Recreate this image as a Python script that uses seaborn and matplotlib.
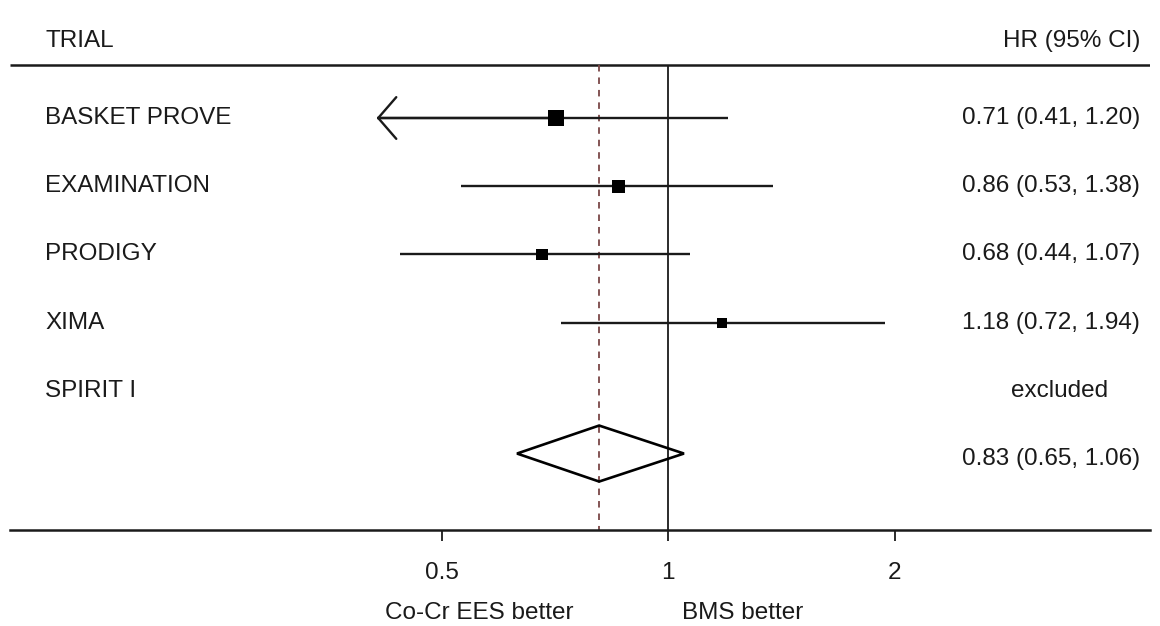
import numpy as np
import pandas as pd
import matplotlib
matplotlib.use("Agg")
import matplotlib.pyplot as plt
import matplotlib.transforms as mtransforms
import matplotlib.ticker as mticker
import seaborn as sns
from matplotlib.patches import Polygon

# ---- data ----
trials = ["BASKET PROVE", "EXAMINATION", "PRODIGY", "XIMA", "SPIRIT I"]
hr = [0.71, 0.86, 0.68, 1.18]
ci_low = [0.41, 0.53, 0.44, 0.72]
ci_high = [1.20, 1.38, 1.07, 1.94]
weights = [30, 23, 17, 12]          # study weights (box area)
arrow_left = [True, False, False, False]
excluded_label = "excluded"
pooled_label = "0.83 (0.65, 1.06)"
pooled_hr = 0.81                   # position drawn in picture
pooled_low = 0.63
pooled_high = 1.05
xticks = [0.5, 1, 2]
xtick_labels = ["0.5", "1", "2"]

sns.set_theme(style="white")
plt.rcParams["font.family"] = ["Liberation Sans", "DejaVu Sans"]

W, H = 1160, 626
fig = plt.figure(figsize=(W / 100, H / 100), dpi=100)
fig.patch.set_facecolor("white")

# axes region: bottom line at 530 px, spanning x 10..1150 px
ax_left_px, ax_right_px, ax_bottom_px = 10, 1150, 530
ax = fig.add_axes([ax_left_px / W, 1 - ax_bottom_px / H,
                   (ax_right_px - ax_left_px) / W, ax_bottom_px / H])
ax.set_xscale("log", base=2)
x_one_px, px_per_oct = 668, 226.5
ax.set_xlim(2 ** ((ax_left_px - x_one_px) / px_per_oct),
            2 ** ((ax_right_px - x_one_px) / px_per_oct))
row0_px, row_step = 118, 68.2
ax.set_ylim((ax_bottom_px - row0_px) / row_step, (0 - row0_px) / row_step)

ink = "#1a1a1a"
top_line_y = (65 - row0_px) / row_step
header_y = (41 - row0_px) / row_step
ybot = ax.get_ylim()[0]

# header line
ax.hlines(top_line_y, *ax.get_xlim(), color=ink, lw=1.8)
# reference lines
ax.vlines(1, top_line_y, ybot, color=ink, lw=1.3)
ax.vlines(pooled_hr, top_line_y, ybot, color="#7a4646", lw=1.3,
          linestyles=(0, (3.6, 3.3)))

n = len(hr)
rows = np.arange(n)
df = pd.DataFrame({"hr": hr, "row": rows, "w": weights})

# CI lines
for i in range(n):
    ax.hlines(rows[i], ci_low[i], ci_high[i], color=ink, lw=1.7)
    if arrow_left[i]:
        ax.annotate("", xy=(ci_low[i], rows[i]), xytext=(hr[i], rows[i]),
                    arrowprops=dict(arrowstyle="->,head_length=0.65,head_width=0.75",
                                    color=ink, lw=1.7, mutation_scale=20,
                                    shrinkA=0, shrinkB=0))

sns.scatterplot(data=df, x="hr", y="row", size="w", sizes=(50, 120),
                marker="s", color="black", edgecolor="black", linewidth=0,
                legend=False, ax=ax, zorder=5)

# pooled diamond
prow = len(trials)
dh = 28 / row_step
diamond = Polygon([[pooled_low, prow - 0.08], [pooled_hr, prow - 0.08 - dh],
                   [pooled_high, prow - 0.08], [pooled_hr, prow - 0.08 + dh]],
                  closed=True, fill=False, edgecolor="black", lw=1.9, zorder=6)
ax.add_patch(diamond)

fs = 17.5
tr_left = mtransforms.blended_transform_factory(fig.transFigure, ax.transData)
ax.text(45 / W, header_y, "TRIAL", transform=tr_left, fontsize=fs, color=ink,
        va="center", ha="left")
ax.text(1140 / W, header_y, "HR (95% CI)", transform=tr_left, fontsize=fs, color=ink,
        va="center", ha="right")
for i, t in enumerate(trials):
    ax.text(45 / W, i, t, transform=tr_left, fontsize=fs, color=ink,
            va="center", ha="left")
for i in range(n):
    ax.text(1140 / W, i, f"{hr[i]:.2f} ({ci_low[i]:.2f}, {ci_high[i]:.2f})",
            transform=tr_left, fontsize=fs, color=ink, va="center", ha="right")
ax.text(1060 / W, n, excluded_label, transform=tr_left, fontsize=fs, color=ink,
        va="center", ha="center")
ax.text(1140 / W, prow, pooled_label, transform=tr_left, fontsize=fs, color=ink,
        va="center", ha="right")

# axis styling
for s in ["top", "left", "right"]:
    ax.spines[s].set_visible(False)
ax.spines["bottom"].set_color(ink)
ax.spines["bottom"].set_linewidth(1.8)
ax.set_yticks([])
ax.set_xticks(xticks)
ax.set_xticklabels(xtick_labels)
ax.xaxis.set_minor_locator(mticker.NullLocator())
ax.tick_params(axis="x", which="major", bottom=True, length=8, width=1.3,
               color=ink, labelsize=fs, labelcolor=ink, pad=15)
ax.set_xlabel("")
ax.set_ylabel("")
ax.set_facecolor("white")

fig.text(479 / W, 1 - 613 / H, "Co-Cr EES better", fontsize=fs, color=ink,
         ha="center", va="center")
fig.text(743 / W, 1 - 613 / H, "BMS better", fontsize=fs, color=ink,
         ha="center", va="center")

fig.savefig("out.png", dpi=100, facecolor="white")
